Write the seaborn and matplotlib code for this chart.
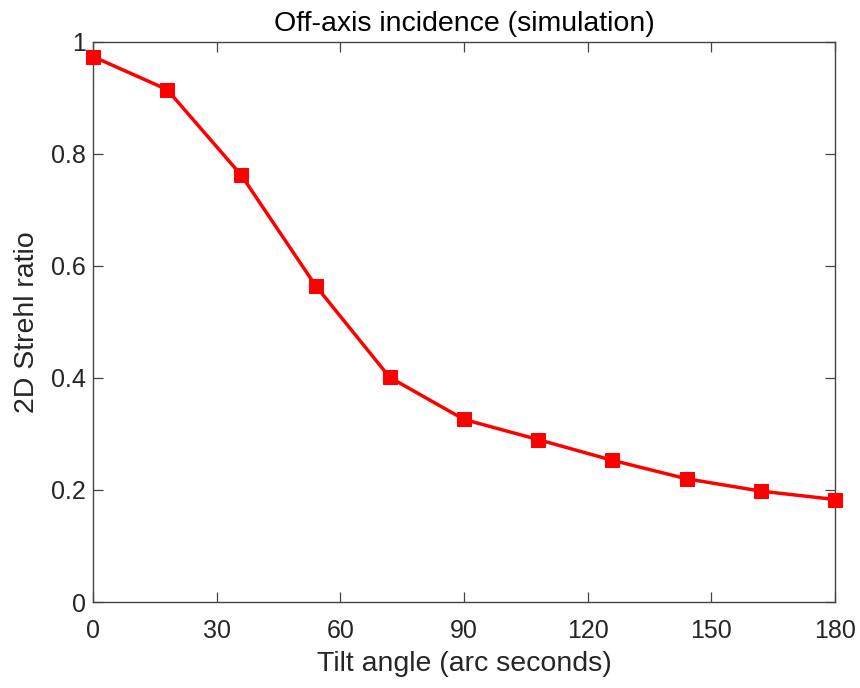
import matplotlib
matplotlib.use("Agg")
import matplotlib.pyplot as plt
import seaborn as sns
import pandas as pd

tilt_angle = [0, 18, 36, 54, 72, 90, 108, 126, 144, 162, 180]
strehl_ratio = [0.974, 0.915, 0.762, 0.565, 0.401, 0.326, 0.290, 0.253, 0.220, 0.198, 0.183]
x_ticks = [0, 30, 60, 90, 120, 150, 180]
y_ticks = [0, 0.2, 0.4, 0.6, 0.8, 1]
y_tick_labels = ["0", "0.2", "0.4", "0.6", "0.8", "1"]

sns.set_theme(style="white")
plt.rcParams['font.family'] = ['Liberation Sans', 'DejaVu Sans']
txt = "#262626"

df = pd.DataFrame({"x": tilt_angle, "y": strehl_ratio})
fig = plt.figure(figsize=(8.6, 6.88), dpi=100)
ax = fig.add_axes([0.108, 0.125, 0.863, 0.814])
sns.lineplot(data=df, x="x", y="y", ax=ax, color="#ff0000", linewidth=2.5,
             marker="s", markersize=9.5, markeredgecolor="#ff0000", clip_on=False,
             zorder=5)
ax.set_xlim(0, 180)
ax.set_ylim(0, 1)
ax.set_xticks(x_ticks)
ax.set_xticklabels([str(v) for v in x_ticks])
ax.set_yticks(y_ticks)
ax.set_yticklabels(y_tick_labels)
ax.tick_params(direction="in", length=7, width=0.9, colors="#444444",
               labelcolor=txt, labelsize=18, top=True, right=True,
               bottom=True, left=True)
ax.tick_params(axis="x", pad=12)
ax.tick_params(axis="y", pad=5)
for s in ax.spines.values():
    s.set_color("#444444")
    s.set_linewidth(1.0)
ax.set_xlabel("Tilt angle (arc seconds)", fontsize=20.5, color=txt, labelpad=6)
ax.set_ylabel("2D Strehl ratio", fontsize=20.5, color=txt, labelpad=8)
ax.set_title("Off-axis incidence (simulation)", fontsize=20.5, color="#000000", pad=8)
fig.savefig("out.png", dpi=100)
